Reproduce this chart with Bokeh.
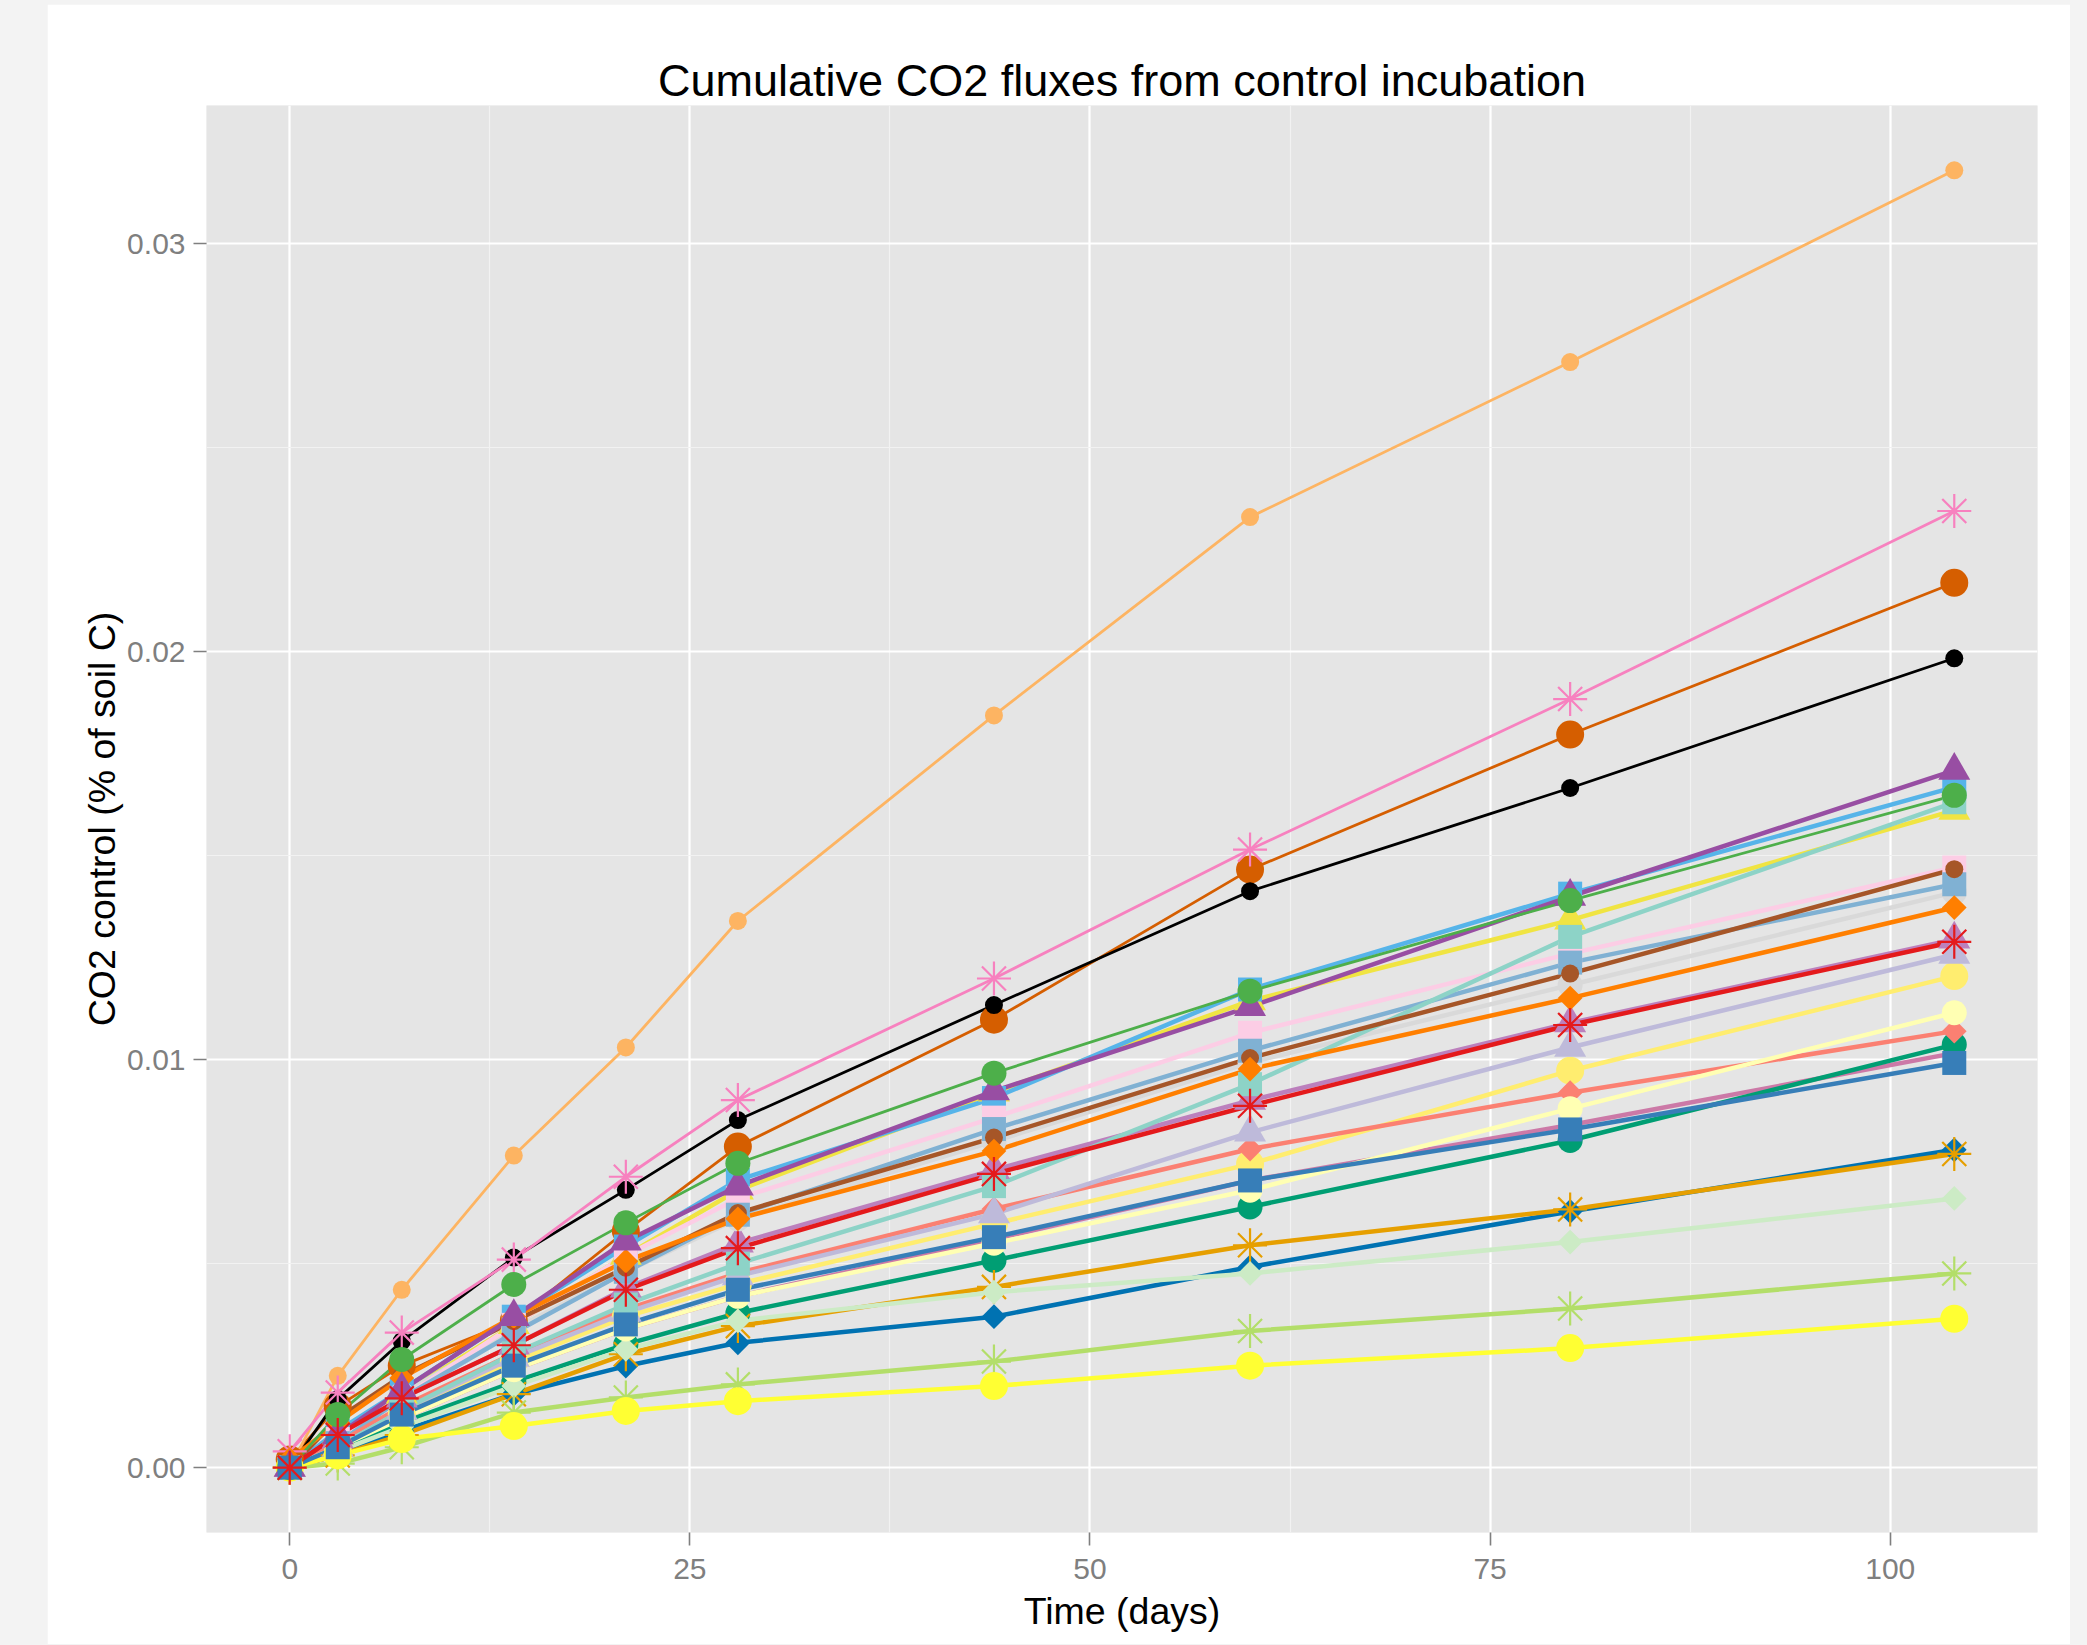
import numpy as np
from bokeh.plotting import figure
from bokeh.models import Range1d, FixedTicker, NumeralTickFormatter, Title
from bokeh.embed import file_html
from bokeh.resources import INLINE

try:
    from bokeh.models import GlobalInlineStyleSheet
    sheets = [GlobalInlineStyleSheet(css="body { background-color: #f3f3f3; }")]
except Exception:
    sheets = []

# ---------------- data ----------------
days = [0, 3, 7, 14, 21, 28, 44, 60, 80, 104]

# Set1 colours
s01 = [0, 0.0008, 0.0017, 0.0030, 0.00436, 0.00538, 0.0072, 0.00887, 0.01085, 0.01289]
s02 = [0, 0.0005, 0.0013, 0.0025, 0.00351, 0.00436, 0.00565, 0.00704, 0.00829, 0.00992]
s03 = [0, 0.0013, 0.00265, 0.00449, 0.0060, 0.00746, 0.00967, 0.01168, 0.0139, 0.01648]
s04 = [0, 0.0008, 0.0019, 0.0037, 0.00555, 0.0069, 0.00923, 0.0113, 0.0140, 0.01709]
s05 = [0.0002, 0.0011, 0.0022, 0.0037, 0.00506, 0.0061, 0.00776, 0.00977, 0.01151, 0.01373]
s06 = [0, 0.0003, 0.0007, 0.00102, 0.00139, 0.00163, 0.0020, 0.0025, 0.00293, 0.00365]
s07 = [0, 0.0012, 0.00225, 0.00359, 0.0049, 0.00624, 0.00809, 0.01004, 0.01211, 0.01467]
s08 = [0.0004, 0.00184, 0.00331, 0.0051, 0.00713, 0.00901, 0.01199, 0.01515, 0.01884, 0.02345]
# Set3 colours
s09 = [0, 0.0005, 0.0014, 0.0028, 0.0040, 0.0050, 0.0069, 0.0094, 0.01301, 0.01631]
s10 = [0, 0.0005, 0.0012, 0.0024, 0.0034, 0.0042, 0.0055, 0.0068, 0.0088, 0.01115]
s11 = [0, 0.0005, 0.0014, 0.0027, 0.0038, 0.0047, 0.00622, 0.00822, 0.0103, 0.01258]
s12 = [0, 0.0006, 0.0015, 0.0028, 0.00388, 0.00477, 0.00634, 0.00781, 0.00919, 0.0107]
s13 = [0, 0.0006, 0.0017, 0.0033, 0.0048, 0.0062, 0.0083, 0.01022, 0.01238, 0.0143]
s14 = [0, 0.00225, 0.00436, 0.00765, 0.0103, 0.0134, 0.01844, 0.0233, 0.0271, 0.0318]
s15 = [0, 0.0001, 0.0005, 0.00135, 0.00172, 0.00204, 0.0026, 0.00335, 0.0039, 0.00476]
s16 = [0, 0.0007, 0.0017, 0.0035, 0.0052, 0.0066, 0.00858, 0.01066, 0.0126, 0.01471]
s17 = [0, 0.0007, 0.0018, 0.0034, 0.0048, 0.0061, 0.0080, 0.00993, 0.01183, 0.0141]
s18 = [0, 0.0007, 0.0017, 0.0030, 0.0044, 0.0055, 0.0073, 0.0090, 0.0109, 0.01295]
s19 = [0, 0.0004, 0.0010, 0.0020, 0.0029, 0.0036, 0.0043, 0.00476, 0.00553, 0.0066]
s20 = [0, 0.0005, 0.0013, 0.0026, 0.0037, 0.0045, 0.00598, 0.00744, 0.00973, 0.01205]
# colour-blind palette colours
s21 = [0, 0.00168, 0.0031, 0.00515, 0.00681, 0.00852, 0.01134, 0.01413, 0.01666, 0.01984]
s22 = [0, 0.0003, 0.0008, 0.0018, 0.00278, 0.00347, 0.00443, 0.00545, 0.00633, 0.00769]
s23 = [0, 0.0009, 0.0019, 0.0037, 0.00542, 0.00705, 0.00906, 0.01172, 0.01407, 0.01668]
s24 = [0, 0.0004, 0.0011, 0.0021, 0.00302, 0.00379, 0.00508, 0.00639, 0.00802, 0.01037]
s25 = [0, 0.0008, 0.0018, 0.0035, 0.0052, 0.0068, 0.0092, 0.01144, 0.01342, 0.01611]
s26 = [0, 0.0003, 0.0009, 0.0018, 0.00249, 0.00306, 0.0037, 0.00492, 0.00628, 0.00779]
s27 = [0.0002, 0.0015, 0.0025, 0.0036, 0.0058, 0.00787, 0.01098, 0.01466, 0.01797, 0.02169]
s28 = [0, 0.0005, 0.0012, 0.0024, 0.0034, 0.0042, 0.0056, 0.00704, 0.0084, 0.01016]

series = [s01, s02, s03, s04, s05, s06, s07, s08, s09, s10, s11, s12, s13, s14,
          s15, s16, s17, s18, s19, s20, s21, s22, s23, s24, s25, s26, s27, s28]

colors = ["#E41A1C", "#377EB8", "#4DAF4A", "#984EA3", "#FF7F00", "#FFFF33", "#A65628", "#F781BF",
          "#8DD3C7", "#FFFFB3", "#BEBADA", "#FB8072", "#80B1D3", "#FDB462", "#B3DE69", "#FCCDE5",
          "#D9D9D9", "#BC80BD", "#CCEBC5", "#FFED6F",
          "#000000", "#E69F00", "#56B4E9", "#009E73", "#F0E442", "#0072B2", "#D55E00", "#CC79A7"]

# ggplot shape codes per series
shapes = [8, 15, 16, 17, 18, 19, 20, 8,
          15, 16, 17, 18, 15, 20, 8, 15, 16, 17, 18, 19,
          20, 8, 15, 16, 17, 18, 19, 20]
thin_lines = {"#F781BF", "#000000", "#D55E00", "#FDB462", "#4DAF4A"}

title_text = "Cumulative CO2 fluxes from control incubation"
x_title = "Time (days)"
y_title = "CO2 control (% of soil C)"
x_ticks = [0, 25, 50, 75, 100]
x_minor = [12.5, 37.5, 62.5, 87.5]
y_ticks = [0, 0.01, 0.02, 0.03]
y_minor = [0.005, 0.015, 0.025]

# ---------------- figure ----------------
xmin, xmax = min(days), max(days)
xpad = 0.05 * (xmax - xmin)
allv = np.concatenate([np.asarray(s) for s in series])
ymin, ymax = 0.0, float(allv.max())
ypad = 0.05 * (ymax - ymin)

FONT = "Liberation Sans"

p = figure(frame_width=1831, frame_height=1427,
           min_border_left=159, min_border_right=33, min_border_top=101, min_border_bottom=112,
           x_range=Range1d(xmin - xpad, xmax + xpad),
           y_range=Range1d(ymin - ypad, ymax + ypad),
           output_backend="svg", toolbar_location=None, stylesheets=sheets)
p.margin = (4, 0, 0, 47)

p.title = Title(text=title_text, align="center", text_font=FONT, text_font_size="45px",
                text_font_style="normal", text_color="black", standoff=0)

p.background_fill_color = "#E5E5E5"
p.border_fill_color = "white"
p.outline_line_color = None

p.xaxis.ticker = FixedTicker(ticks=x_ticks, minor_ticks=x_minor)
p.yaxis.ticker = FixedTicker(ticks=y_ticks, minor_ticks=y_minor)
p.yaxis.formatter = NumeralTickFormatter(format="0.00")

for ax in (p.xaxis, p.yaxis):
    ax.axis_line_color = None
    ax.major_tick_line_color = "#7F7F7F"
    ax.major_tick_line_width = 1.6
    ax.major_tick_out = 13
    ax.major_tick_in = 0
    ax.minor_tick_line_color = None
    ax.major_label_text_font = FONT
    ax.major_label_text_font_size = "30px"
    ax.major_label_text_color = "#7F7F7F"
    ax.axis_label_text_font = FONT
    ax.axis_label_text_font_size = "37.5px"
    ax.axis_label_text_font_style = "normal"
    ax.axis_label_text_color = "black"

p.xaxis.axis_label = x_title
p.yaxis.axis_label = y_title
p.xaxis.major_label_standoff = 13
p.yaxis.major_label_standoff = 8
p.xaxis.axis_label_standoff = 8
p.yaxis.axis_label_standoff = 1

for g in (p.xgrid, p.ygrid):
    g.grid_line_color = "white"
    g.grid_line_width = 2.2
    g.minor_grid_line_color = "#F2F2F2"
    g.minor_grid_line_width = 1.1

order = list(range(len(series)))[::-1]

# lines first
for i in order:
    col = colors[i]
    lw = 2.8 if col in thin_lines else 4.5
    p.line(days, series[i], line_color=col, line_width=lw)

# then points
for i in order:
    col = colors[i]
    shp = shapes[i]
    if shp == 8:
        p.scatter(days, series[i], marker="asterisk", size=34, line_color=col,
                  line_width=2.2, fill_color=None)
    elif shp == 15:
        p.scatter(days, series[i], marker="square", size=24, fill_color=col, line_color=None)
    elif shp == 16:
        p.scatter(days, series[i], marker="circle", size=25, fill_color=col, line_color=None)
    elif shp == 17:
        p.scatter(days, series[i], marker="triangle", size=32, fill_color=col, line_color=None)
    elif shp == 18:
        p.scatter(days, series[i], marker="square", angle=np.pi / 4, size=17.5,
                  fill_color=col, line_color=None)
    elif shp == 19:
        p.scatter(days, series[i], marker="circle", size=28, fill_color=col, line_color=None)
    else:
        p.scatter(days, series[i], marker="circle", size=18, fill_color=col, line_color=None)

open("out.html", "w").write(file_html(p, INLINE))
